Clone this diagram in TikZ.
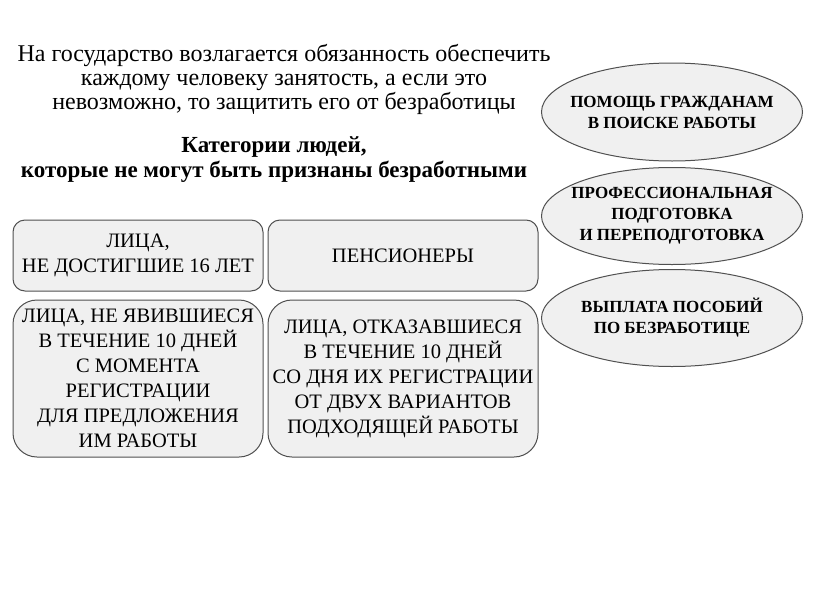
\documentclass[tikz,border=0pt]{standalone}
\usepackage{fontspec}
\setmainfont{Liberation Serif}
\usetikzlibrary{shapes.geometric}
\definecolor{boxfill}{HTML}{F0F0F0}
\definecolor{boxline}{HTML}{505050}
\tikzset{
  cat/.style={draw=boxline, line width=1pt, fill=boxfill, rounded corners=12pt, align=center, font=\fontsize{20.5}{25}\selectfont, inner sep=0pt},
  bigcat/.style={cat, rounded corners=24pt},
  func/.style={draw=boxline, line width=1pt, fill=boxfill, ellipse, align=center, font=\bfseries\fontsize{17}{21}\selectfont, inner xsep=-20pt, inner ysep=-8pt},
}
\begin{document}
\begin{tikzpicture}[x=1pt,y=-1pt]
\useasboundingbox (0,0) rectangle (816,613);
\node[align=center, font=\fontsize{24}{24}\selectfont] (intro) at (284,79) {На государство возлагается обязанность обеспечить\\каждому человеку занятость, а если это\\невозможно, то защитить его от безработицы};
\node[align=center, font=\bfseries\fontsize{23}{25}\selectfont] (head) at (274,160) {Категории людей,\\которые не могут быть признаны безработными};
\node[cat, minimum width=250pt, minimum height=71pt] (c1) at (138,255.5) {ЛИЦА,\\НЕ ДОСТИГШИЕ 16 ЛЕТ};
\node[cat, minimum width=270pt, minimum height=71pt] (c2) at (403,255.5) {ПЕНСИОНЕРЫ};
\node[bigcat, minimum width=250pt, minimum height=157pt] (c3) at (138,378.5) {ЛИЦА, НЕ ЯВИВШИЕСЯ\\В ТЕЧЕНИЕ 10 ДНЕЙ\\С МОМЕНТА\\РЕГИСТРАЦИИ\\ДЛЯ ПРЕДЛОЖЕНИЯ\\ИМ РАБОТЫ};
\node[bigcat, minimum width=270pt, minimum height=157pt] (c4) at (403,378.5) {ЛИЦА, ОТКАЗАВШИЕСЯ\\В ТЕЧЕНИЕ 10 ДНЕЙ\\СО ДНЯ ИХ РЕГИСТРАЦИИ\\ОТ ДВУХ ВАРИАНТОВ\\ПОДХОДЯЩЕЙ РАБОТЫ};
\node[func, minimum width=261pt, minimum height=98pt] (f1) at (672,112) {ПОМОЩЬ ГРАЖДАНАМ\\В ПОИСКЕ РАБОТЫ};
\node[func, minimum width=261pt, minimum height=97pt] (f2) at (672,216) {ПРОФЕССИОНАЛЬНАЯ\\ПОДГОТОВКА\\И ПЕРЕПОДГОТОВКА};
\node[func, minimum width=261pt, minimum height=97pt] (f3) at (672,318) {ВЫПЛАТА ПОСОБИЙ\\ПО БЕЗРАБОТИЦЕ};
\end{tikzpicture}
\end{document}
